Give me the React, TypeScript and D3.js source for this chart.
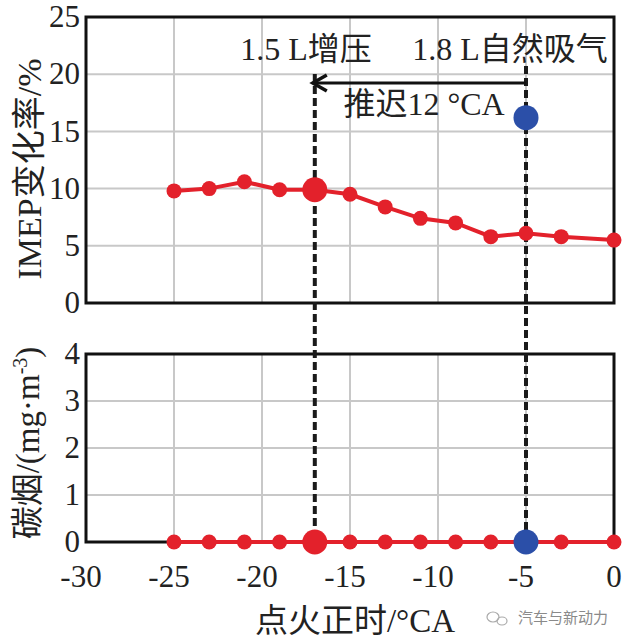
import React, { useEffect, useRef } from 'react';
import * as d3 from 'd3';

// ignition timing (°CA) for the 1.5 L turbo curve
const timing = [-25, -23, -21, -19, -17, -15, -13, -11, -9, -7, -5, -3, 0];
const imepTurbo = [9.8, 10.0, 10.6, 9.9, 9.9, 9.5, 8.4, 7.4, 7.0, 5.8, 6.1, 5.8, 5.5];
const sootTurbo = [0, 0, 0, 0, 0, 0, 0, 0, 0, 0, 0, 0, 0];
// 1.8 L naturally aspirated reference point
const naTiming = [-5];
const naImep = [16.2];
const naSoot = [0];
const turboPick = -17;

const xTicks = [-30, -25, -20, -15, -10, -5, 0];
const topTicks = [0, 5, 10, 15, 20, 25];
const botTicks = [0, 1, 2, 3, 4];

const RED = '#e3212b';
const BLUE = '#2b4fa8';
const FONT = '"Liberation Serif", "Noto Sans CJK SC", serif';

const App = () => {
  const ref = useRef<SVGSVGElement>(null);

  useEffect(() => {
    const svg = d3.select(ref.current);
    svg.selectAll('*').remove();

    const x = d3.scaleLinear().domain([-30, 0]).range([86, 614]);
    const yTop = d3.scaleLinear().domain([0, 25]).range([303, 17]);
    const yBot = d3.scaleLinear().domain([0, 4]).range([542, 354]);

    const panels = [
      { y: yTop, ticks: topTicks, vals: imepTurbo, na: naImep },
      { y: yBot, ticks: botTicks, vals: sootTurbo, na: naSoot },
    ];

    panels.forEach((p) => {
      const [y0, y1] = p.y.range();
      const g = svg.append('g');
      // grid
      g.selectAll('.vg')
        .data(xTicks.slice(1, -1))
        .enter()
        .append('line')
        .attr('x1', (d) => x(d))
        .attr('x2', (d) => x(d))
        .attr('y1', y1)
        .attr('y2', y0)
        .style('stroke', '#c8c8c8')
        .style('stroke-width', 2);
      g.selectAll('.hg')
        .data(p.ticks.slice(1, -1))
        .enter()
        .append('line')
        .attr('x1', x(-30))
        .attr('x2', x(0))
        .attr('y1', (d) => p.y(d))
        .attr('y2', (d) => p.y(d))
        .style('stroke', '#c8c8c8')
        .style('stroke-width', 2);
      // frame
      g.append('rect')
        .attr('x', x(-30))
        .attr('y', y1)
        .attr('width', x(0) - x(-30))
        .attr('height', y0 - y1)
        .style('fill', 'none')
        .style('stroke', '#111')
        .style('stroke-width', 3);
      // y tick labels
      g.selectAll('.yt')
        .data(p.ticks)
        .enter()
        .append('text')
        .attr('x', 80)
        .attr('y', (d) => p.y(d))
        .attr('dy', '0.33em')
        .attr('text-anchor', 'end')
        .style('font-family', FONT)
        .style('font-size', '31px')
        .style('fill', '#222')
        .text((d) => d);
    });

    // dashed guides
    const guides = [
      { v: turboPick, top: 74 },
      { v: naTiming[0], top: 66 },
    ];
    svg
      .append('g')
      .selectAll('line')
      .data(guides)
      .enter()
      .append('line')
      .attr('x1', (d) => x(d.v))
      .attr('x2', (d) => x(d.v))
      .attr('y1', (d) => d.top)
      .attr('y2', yBot(0))
      .style('stroke', '#1a1a1a')
      .style('stroke-width', 4)
      .style('stroke-dasharray', '8,4');

    // arrow
    const ay = 83;
    const ax0 = x(turboPick) - 2;
    svg
      .append('line')
      .attr('x1', x(naTiming[0]))
      .attr('x2', ax0 + 2)
      .attr('y1', ay)
      .attr('y2', ay)
      .style('stroke', '#111')
      .style('stroke-width', 3);
    svg
      .append('polyline')
      .attr('points', `${ax0 + 14},${ay - 8} ${ax0},${ay} ${ax0 + 14},${ay + 8}`)
      .style('fill', 'none')
      .style('stroke', '#111')
      .style('stroke-width', 3.5);

    // series
    panels.forEach((p) => {
      const pts = timing.map((t, i) => [t, p.vals[i]] as [number, number]);
      const line = d3
        .line<[number, number]>()
        .x((d) => x(d[0]))
        .y((d) => p.y(d[1]));
      svg
        .append('path')
        .datum(pts)
        .attr('d', line)
        .style('fill', 'none')
        .style('stroke', RED)
        .style('stroke-width', 4);
      svg
        .append('g')
        .selectAll('circle')
        .data(pts)
        .enter()
        .append('circle')
        .attr('cx', (d) => x(d[0]))
        .attr('cy', (d) => p.y(d[1]))
        .attr('r', (d) => (d[0] === turboPick ? 12.5 : 7.5))
        .style('fill', RED);
      svg
        .append('g')
        .selectAll('circle')
        .data(naTiming.map((t, i) => [t, p.na[i]]))
        .enter()
        .append('circle')
        .attr('cx', (d) => x(d[0]))
        .attr('cy', (d) => p.y(d[1]))
        .attr('r', 12.5)
        .style('fill', BLUE);
    });

    // x tick labels
    svg
      .append('g')
      .selectAll('text')
      .data(xTicks)
      .enter()
      .append('text')
      .attr('x', (d) => x(d) - (d < 0 ? 5 : 0))
      .attr('y', 587)
      .attr('text-anchor', 'middle')
      .style('font-family', FONT)
      .style('font-size', '31px')
      .style('fill', '#222')
      .text((d) => d);

    const label = (t: string, px: number, py: number, size: number, rot = 0) =>
      svg
        .append('text')
        .attr('transform', `translate(${px},${py}) rotate(${rot})`)
        .attr('text-anchor', 'middle')
        .style('font-family', FONT)
        .style('font-size', `${size}px`)
        .style('fill', '#222')
        .text(t);

    label('1.5 L增压', 306, 60, 32);
    label('1.8 L自然吸气', 510, 60, 32);
    label('推迟12 °CA', 424, 115, 32);
    label('点火正时/°CA', 355, 632, 33);
    label('IMEP变化率/%', 41, 169, 34, -90);

    const soot = label('', 39, 443, 33, -90);
    soot.append('tspan').text('碳烟/(mg·m');
    soot.append('tspan').attr('dy', -12).style('font-size', '20px').text('-3');
    soot.append('tspan').attr('dy', 12).text(')');

    // watermark
    const wm = svg.append('g').style('stroke', '#aaa').style('fill', 'none').style('stroke-width', 1.2);
    wm.append('ellipse').attr('cx', 493).attr('cy', 617).attr('rx', 6).attr('ry', 5);
    wm.append('ellipse').attr('cx', 502).attr('cy', 621).attr('rx', 5).attr('ry', 4);
    svg
      .append('text')
      .attr('x', 518)
      .attr('y', 623)
      .style('font-family', '"Noto Sans CJK SC", sans-serif')
      .style('font-size', '15px')
      .style('fill', '#8a8a8a')
      .text('汽车与新动力');
  }, []);

  return (
    <svg
      ref={ref}
      width={627}
      height={642}
      style={{ position: 'absolute', left: 0, top: 0, background: '#fff' }}
    />
  );
};

export default App;
